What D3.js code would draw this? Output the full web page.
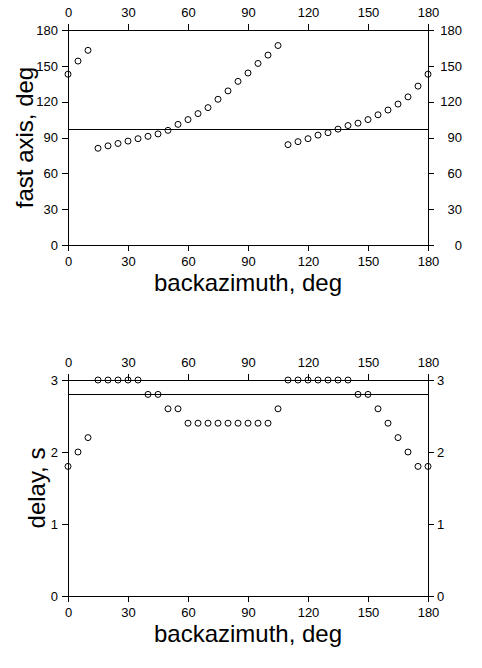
<!DOCTYPE html>
<html lang="en">
    <head>
        <meta charset="UTF-8">
        <title>Splitting parameters vs backazimuth</title>
        <script src="https://d3js.org/d3.v7.min.js"></script>
        <style>
            body{
                margin: 0;
                background-color: white;
            }
            svg{
                display: block;
                font-family: "Liberation Sans", Arial, sans-serif;
            }
            .tick text{
                font-size: 13px;
                fill: black;
            }
            .axis-title{
                font-size: 24px;
                fill: black;
            }
        </style>
    </head>
    <body>
        <svg></svg>
        <script>
            const backazimuth = [0, 5, 10, 15, 20, 25, 30, 35, 40, 45, 50, 55, 60, 65, 70, 75, 80, 85, 90,
                                 95, 100, 105, 110, 115, 120, 125, 130, 135, 140, 145, 150, 155, 160, 165, 170, 175, 180];
            const fastAxis = [143, 154, 163, 81, 83, 85, 87, 89, 91, 93, 96, 101, 105, 110, 115, 122, 129, 137, 144,
                              152, 159, 167, 84, 86.5, 89, 92, 94, 97, 100, 102, 105, 109, 113, 118, 124, 133, 143];
            const delay = [1.8, 2.0, 2.2, 3.0, 3.0, 3.0, 3.0, 3.0, 2.8, 2.8, 2.6, 2.6, 2.4, 2.4, 2.4, 2.4, 2.4, 2.4, 2.4,
                           2.4, 2.4, 2.6, 3.0, 3.0, 3.0, 3.0, 3.0, 3.0, 3.0, 2.8, 2.8, 2.6, 2.4, 2.2, 2.0, 1.8, 1.8];
            const fastAxisMean = 97;
            const delayMean = 2.8;

            const xTicks = [0, 30, 60, 90, 120, 150, 180];
            const fastTicks = [0, 30, 60, 90, 120, 150, 180];
            const delayTicks = [0, 1, 2, 3];

            const w = 482;
            const h = 668;
            const left = 68;
            const right = 428;

            const svg = d3.select("svg")
                          .attr("width", w)
                          .attr("height", h);

            const xScale = d3.scaleLinear()
                             .domain([0, 180])
                             .range([left, right]);

            function drawPanel(opts){
                const yScale = d3.scaleLinear()
                                 .domain(opts.domain)
                                 .range([opts.bottom, opts.top]);

                const g = svg.append("g");
                const fmt = d3.format("d");

                const xBottom = d3.axisBottom(xScale).tickValues(xTicks).tickFormat(fmt).tickSize(6).tickPadding(6);
                const xTop = d3.axisTop(xScale).tickValues(xTicks).tickFormat(fmt).tickSize(6).tickPadding(7);
                const yLeft = d3.axisLeft(yScale).tickValues(opts.ticks).tickFormat(fmt).tickSize(6).tickPadding(4);
                const yRight = d3.axisRight(yScale).tickValues(opts.ticks).tickFormat(fmt).tickSize(6).tickPadding(3);

                g.append("g")
                 .attr("transform", "translate(0," + opts.bottom + ")")
                 .call(xBottom);

                g.append("g")
                 .attr("transform", "translate(0," + opts.top + ")")
                 .call(xTop);

                g.append("g")
                 .attr("transform", "translate(" + left + ",0)")
                 .call(yLeft);

                const r = g.append("g")
                           .attr("transform", "translate(" + right + ",0)")
                           .call(yRight);

                if(opts.rightAlignEnd){
                    r.selectAll(".tick text")
                     .attr("text-anchor", "end")
                     .attr("x", 34);
                }

                g.selectAll(".tick line")
                 .attr("stroke", "black")
                 .attr("shape-rendering", "crispEdges");

                g.selectAll(".domain").remove();

                // frame
                g.append("rect")
                 .attr("x", left)
                 .attr("y", opts.top)
                 .attr("width", right - left)
                 .attr("height", opts.bottom - opts.top)
                 .attr("fill", "none")
                 .attr("stroke", "black")
                 .attr("shape-rendering", "crispEdges");

                // mean line
                g.append("line")
                 .attr("x1", xScale(0))
                 .attr("x2", xScale(180))
                 .attr("y1", yScale(opts.mean))
                 .attr("y2", yScale(opts.mean))
                 .attr("stroke", "black")
                 .attr("shape-rendering", "crispEdges");

                g.selectAll("circle")
                 .data(opts.values)
                 .enter()
                 .append("circle")
                 .attr("cx", (d, i) => xScale(backazimuth[i]))
                 .attr("cy", (d) => yScale(d))
                 .attr("r", 3)
                 .attr("fill", "none")
                 .attr("stroke", "black")
                 .attr("stroke-width", 1);

                g.append("text")
                 .attr("class", "axis-title")
                 .attr("x", (left + right) / 2)
                 .attr("y", opts.bottom + 46)
                 .attr("text-anchor", "middle")
                 .text("backazimuth, deg");

                g.append("text")
                 .attr("class", "axis-title")
                 .attr("transform", "translate(" + opts.yTitleX + "," + ((opts.top + opts.bottom) / 2) + ") rotate(-90)")
                 .attr("text-anchor", "middle")
                 .text(opts.yTitle);
            }

            drawPanel({
                top: 30,
                bottom: 245,
                domain: [0, 180],
                ticks: fastTicks,
                values: fastAxis,
                mean: fastAxisMean,
                yTitle: "fast axis, deg",
                yTitleX: 33,
                rightAlignEnd: true
            });

            drawPanel({
                top: 380,
                bottom: 596,
                domain: [0, 3],
                ticks: delayTicks,
                values: delay,
                mean: delayMean,
                yTitle: "delay, s",
                yTitleX: 45,
                rightAlignEnd: false
            });
        </script>
    </body>
</html>
